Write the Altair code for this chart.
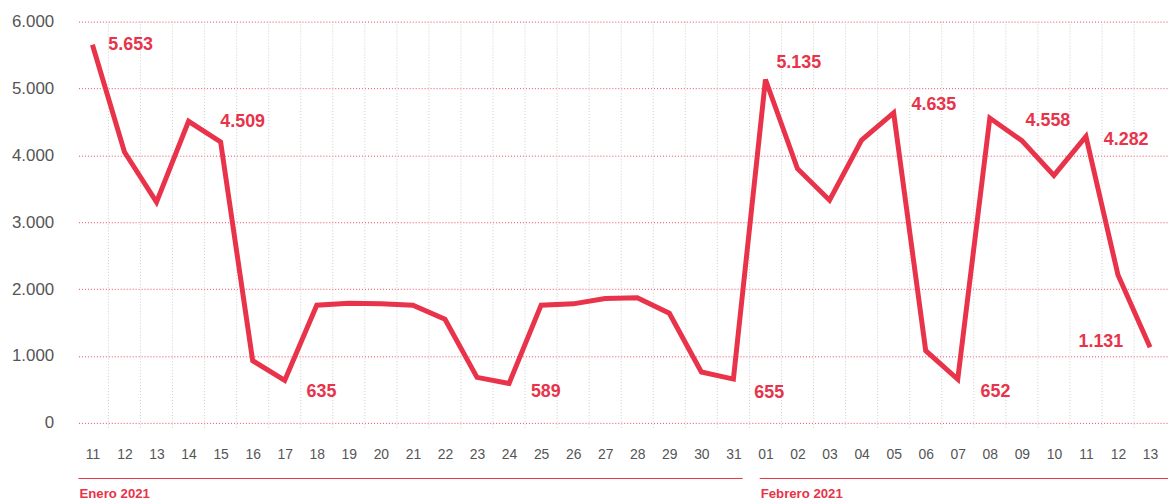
import altair as alt
import pandas as pd

# ---- data ----
days = ["11", "12", "13", "14", "15", "16", "17", "18", "19", "20", "21",
        "22", "23", "24", "25", "26", "27", "28", "29", "30", "31",
        "01", "02", "03", "04", "05", "06", "07", "08", "09", "10",
        "11", "12", "13"]
month_of_day = ["Enero 2021"] * 21 + ["Febrero 2021"] * 13
values = [5653, 4050, 3300, 4509, 4200, 930, 635, 1760, 1790, 1780, 1760,
          1550, 680, 589, 1760, 1780, 1860, 1870, 1640, 760, 655,
          5135, 3800, 3330, 4230, 4635, 1080, 652, 4558, 4220, 3700,
          4282, 2210, 1131]
labeled_idx = [0, 3, 6, 13, 20, 21, 25, 27, 28, 31, 33]
y_ticks = [0, 1000, 2000, 3000, 4000, 5000, 6000]

RED = "#e8334a"
GREY = "#555555"
FONT = "Liberation Sans"

W, H = 1097, 404
X_DOMAIN = [-0.434, 33.56]

df = pd.DataFrame({"i": list(range(len(days))), "day": days,
                   "month": month_of_day, "value": values})
df["label"] = df["value"].map(lambda v: f"{v:,}".replace(",", "."))

xscale = alt.Scale(domain=X_DOMAIN, nice=False, zero=False)
yscale = alt.Scale(domain=[0, 6000], nice=False)

day_array = "[" + ",".join(f"'{d}'" for d in days) + "]"

XAXIS = alt.Axis(values=list(range(len(days))), labelExpr=f"{day_array}[datum.value]",
                 labelOverlap=False, labelFlush=False, labelBound=False, title=None)
YAXIS = alt.Axis(values=y_ticks, labelExpr="replace(format(datum.value, ','), ',', '.')",
                 title=None)


def X(field):
    return alt.X(field, scale=xscale, axis=XAXIS)


line = alt.Chart(df).mark_line(color=RED, strokeWidth=5, strokeJoin="miter").encode(
    x=X("i:Q"),
    y=alt.Y("value:Q", scale=yscale, axis=YAXIS),
)

# vertical dotted separators between days
sep = pd.DataFrame({"pos": [i + 0.5 for i in range(len(days) - 1)]})
vgrid = alt.Chart(sep).mark_rule(color="#cfcfcf", strokeDash=[1, 2], strokeWidth=1).encode(
    x=X("pos:Q"),
    y=alt.value(0), y2=alt.value(H + 6),
)

# month bands below the axis
months = []
for m in ["Enero 2021", "Febrero 2021"]:
    idx = df.index[df["month"] == m]
    months.append({"month": m, "first": int(idx.min()), "last": int(idx.max())})
mdf = pd.DataFrame(months)
mdf["start"] = [X_DOMAIN[0], mdf["first"][1] - 0.18]
mdf["end"] = [mdf["last"][0] + 0.29, X_DOMAIN[1]]

mrule = alt.Chart(mdf).mark_rule(color=RED, strokeWidth=1).encode(
    x=X("start:Q"), x2="end:Q", y=alt.value(H + 56),
)
mtext = alt.Chart(mdf).mark_text(align="left", baseline="middle", fontSize=13.3,
                                 fontWeight="bold", color=RED, font=FONT, dx=1).encode(
    x=X("start:Q"), y=alt.value(H + 72), text="month:N",
)

# value labels with individual offsets
offsets = {0: (16, 0, "left"), 3: (32, 1, "left"), 6: (22, 12, "left"),
           13: (22, 9, "left"), 20: (21, 14, "left"), 21: (11, -17, "left"),
           25: (18, -8, "left"), 27: (23, 13, "left"), 28: (36, 3, "left"),
           31: (18, 4, "left"), 33: (-27, -5, "right")}
labels = []
for i in labeled_idx:
    dx, dy, al = offsets[i]
    labels.append(
        alt.Chart(df[df["i"] == i]).mark_text(align=al, baseline="middle", dx=dx, dy=dy,
                                              fontSize=18, fontWeight="bold", color=RED,
                                              font=FONT).encode(
            x=X("i:Q"),
            y=alt.Y("value:Q", scale=yscale, axis=YAXIS),
            text="label:N",
        )
    )

chart = alt.layer(vgrid, line, mrule, mtext, *labels).properties(
    width=W, height=H,
    autosize=alt.AutoSizeParams(type="none"),
    padding={"left": 71, "top": 12, "right": 0, "bottom": 84},
).configure(background="white").configure_view(stroke=None).configure_axisX(
    labelFontSize=14, labelColor=GREY, labelPadding=25, labelFont=FONT,
    ticks=False, domain=False, grid=False, labelFlush=False, labelOverlap=False,
).configure_axisY(
    labelFontSize=17, labelColor=GREY, labelPadding=25, labelFont=FONT,
    ticks=False, domain=False, grid=True, gridColor=RED,
    gridDash=[1, 2], gridWidth=1, gridOpacity=0.9,
)

chart.save("out.html", embed_options={"renderer": "svg", "actions": False})
